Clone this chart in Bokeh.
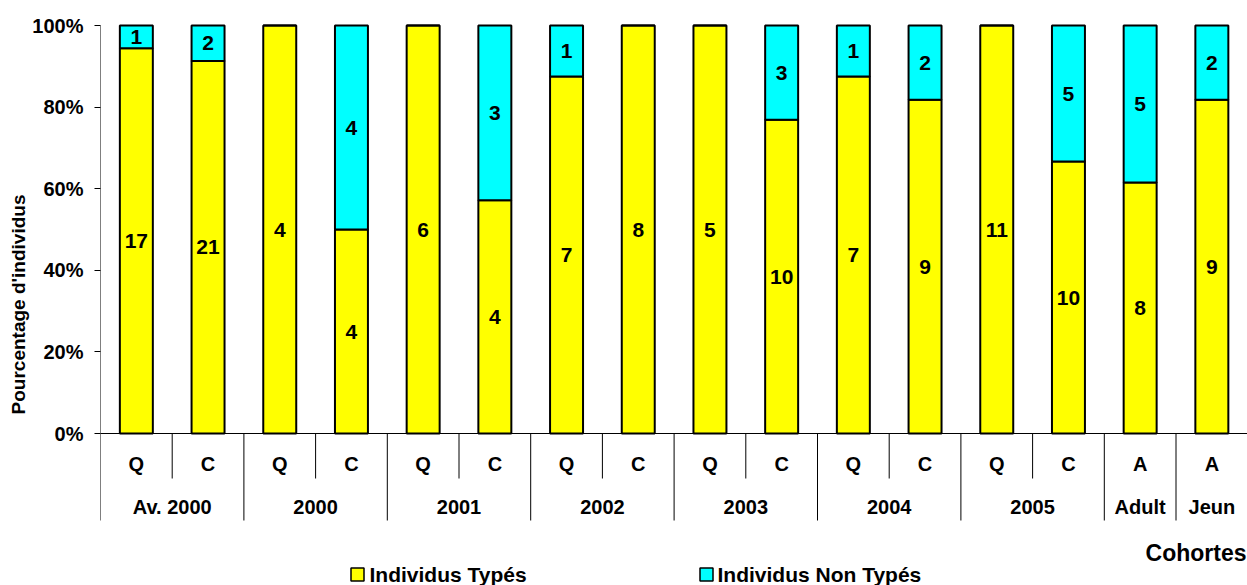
from bokeh.plotting import figure
from bokeh.models import ColumnDataSource, FixedTicker, NumeralTickFormatter, Range1d
from bokeh.core.properties import value
from bokeh.embed import file_html
from bokeh.resources import INLINE

# ---- data ----
groups = ["Av. 2000", "2000", "2001", "2002", "2003", "2004", "2005", "Adult", "Jeun"]
group_sizes = [2, 2, 2, 2, 2, 2, 2, 1, 1]
subcats = ["Q", "C", "Q", "C", "Q", "C", "Q", "C", "Q", "C", "Q", "C", "Q", "C", "A", "A"]
typed = [17, 21, 4, 4, 6, 4, 7, 8, 5, 10, 7, 9, 11, 10, 8, 9]
non_typed = [1, 2, 0, 4, 0, 3, 1, 0, 0, 3, 1, 2, 0, 5, 5, 2]
y_ticks = [0, 0.2, 0.4, 0.6, 0.8, 1.0]
series_names = ["Individus Typés", "Individus Non Typés"]
colors = ["#FFFF00", "#00FFFF"]

FONT = value("Liberation Sans")
W, H = 1247, 585
LEFT, TOP = 100, 23
CAT_PX = 71.7
Y_PX = 408.0
frame_w = W - LEFT
frame_h = H - TOP
X_END = frame_w / CAT_PX
Y_END = 1 + 2 / Y_PX
Y_START = Y_END - frame_h / Y_PX


def px_x(page_x):
    return (page_x - 100) / CAT_PX


def px_y(page_y):
    return (433 - page_y) / Y_PX


n = len(typed)
xs = [i + 0.5 for i in range(n)]
tot = [a + b for a, b in zip(typed, non_typed)]
tp = [a / t for a, t in zip(typed, tot)]
ntp = [b / t for b, t in zip(non_typed, tot)]
src = ColumnDataSource(dict(x=xs, typed=tp, non=ntp))

p = figure(width=W, height=H, output_backend="svg", toolbar_location=None, title=None,
           x_range=Range1d(0, X_END), y_range=Range1d(Y_START, Y_END),
           x_axis_type=None, min_border_left=LEFT, min_border_right=0,
           min_border_top=TOP, min_border_bottom=0)
p.grid.visible = False
p.outline_line_color = None
p.background_fill_color = "white"
p.border_fill_color = "white"

# y axis
ax = p.yaxis[0]
ax.ticker = FixedTicker(ticks=y_ticks)
ax.formatter = NumeralTickFormatter(format="0%")
ax.axis_line_color = None
ax.major_tick_out = 6
ax.major_tick_in = 0
ax.minor_tick_line_color = None
ax.major_tick_line_color = "black"
ax.major_label_standoff = 11
ax.major_label_text_font = "Liberation Sans"
ax.major_label_text_font_style = "bold"
ax.major_label_text_font_size = "20px"
ax.major_label_text_color = "black"
ax.axis_label = "Pourcentage d'individus"
ax.axis_label_text_font = "Liberation Sans"
ax.axis_label_text_font_style = "bold"
ax.axis_label_text_font_size = "19px"
ax.axis_label_text_color = "black"
ax.axis_label_standoff = 0

# bars
p.vbar_stack(["typed", "non"], x="x", width=0.46, fill_color=colors,
             line_color="black", line_width=2, source=src)

# segment labels
lx, ly, lt = [], [], []
for i in range(n):
    if typed[i] > 0:
        lx.append(xs[i]); ly.append(tp[i] / 2); lt.append(str(typed[i]))
    if non_typed[i] > 0:
        lx.append(xs[i]); ly.append(tp[i] + ntp[i] / 2); lt.append(str(non_typed[i]))
p.text(x=lx, y=ly, text=lt, text_font=FONT, text_font_style="bold",
       text_font_size="21px", text_align="center", text_baseline="middle", text_color="black")

# axis lines
p.segment(x0=[0, 0], y0=[0, px_y(520)], x1=[X_END, 0], y1=[0, 1.0], line_color="black", line_width=1)

# category separators
bounds = [0]
for s in group_sizes:
    bounds.append(bounds[-1] + s)
outer = [b for b in bounds[1:] if b < X_END - 0.02]
inner = [i for i in range(1, n) if i not in bounds]
p.segment(x0=outer, y0=[0] * len(outer), x1=outer, y1=[px_y(520)] * len(outer),
          line_color="black", line_width=1)
p.segment(x0=inner, y0=[0] * len(inner), x1=inner, y1=[px_y(478)] * len(inner),
          line_color="black", line_width=1)

# category labels
p.text(x=xs, y=[px_y(463)] * n, text=subcats, text_font=FONT, text_font_style="bold",
       text_font_size="20px", text_align="center", text_baseline="middle", text_color="black")
gx = [(bounds[i] + bounds[i + 1]) / 2 for i in range(len(groups))]
p.text(x=gx, y=[px_y(506)] * len(groups), text=groups, text_font=FONT, text_font_style="bold",
       text_font_size="20px", text_align="center", text_baseline="middle", text_color="black")

# axis title
p.text(x=[px_x(1246)], y=[px_y(552)], text=["Cohortes"], text_font=FONT, text_font_style="bold",
       text_font_size="23px", text_align="right", text_baseline="middle", text_color="black")

# legend
leg_y = px_y(574)
p.scatter(x=[px_x(357), px_x(706)], y=[leg_y, leg_y], marker="square", size=13,
          fill_color=colors, line_color="black", line_width=1.5)
p.text(x=[px_x(369), px_x(717)], y=[leg_y, leg_y], text=series_names, text_font=FONT,
       text_font_style="bold", text_font_size="21px", text_align="left", text_baseline="middle",
       text_color="black")

open("out.html", "w").write(file_html(p, INLINE))
